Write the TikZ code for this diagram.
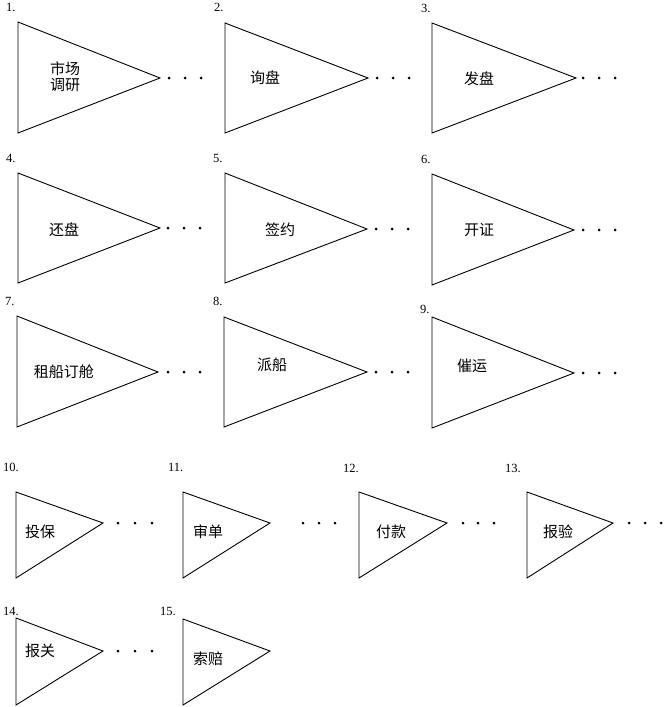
\documentclass[tikz,border=0pt]{standalone}
\usepackage{fontspec}
\setmainfont{Liberation Serif}
\newfontfamily\cjk{Noto Sans CJK SC}
\begin{document}
\begin{tikzpicture}[x=1pt,y=-1pt,
  tri/.style={draw, line width=0.9pt, line join=miter},
  lbl/.style={font=\cjk\fontsize{15}{15.5}\selectfont, inner sep=0pt, align=center},
  num/.style={font=\fontsize{12.5}{13}\selectfont, inner sep=0pt, anchor=base west},
  dotfill/.style={fill=black}]
\useasboundingbox[fill=white] (0,0) rectangle (671,707);
\newcommand\tridots[4]{\foreach \xx in {#1,#2,#3} \fill[dotfill] (\xx,#4) circle (1.5);}
% row 1
\draw[tri] (18,22) -- (160,78) -- (18,133) -- cycle;
\node[lbl] (t1) at (65,77) {市场\\调研};
\node[num] (n1) at (6,11) {1.};
\tridots{169}{185}{201}{78}
\draw[tri] (225,23) -- (368,78) -- (225,133) -- cycle;
\node[lbl] (t2) at (265,78) {询盘};
\node[num] (n2) at (214,11) {2.};
\tridots{377}{393}{409}{78}
\draw[tri] (432,23) -- (576,78) -- (432,133) -- cycle;
\node[lbl] (t3) at (479,79) {发盘};
\node[num] (n3) at (421,12) {3.};
\tridots{583}{599}{615}{78}
% row 2
\draw[tri] (18,173) -- (160,228) -- (18,283) -- cycle;
\node[lbl] (t4) at (64,230) {还盘};
\node[num] (n4) at (6,162) {4.};
\tridots{168}{184}{200}{228}
\draw[tri] (225,173) -- (367,229) -- (225,283) -- cycle;
\node[lbl] (t5) at (280,230) {签约};
\node[num] (n5) at (213,162) {5.};
\tridots{376}{392}{408}{229}
\draw[tri] (432,174) -- (574,230) -- (432,285) -- cycle;
\node[lbl] (t6) at (479,230) {开证};
\node[num] (n6) at (421,163) {6.};
\tridots{583}{599}{615}{230}
% row 3
\draw[tri] (17,316) -- (158,372) -- (17,427) -- cycle;
\node[lbl] (t7) at (64,372) {租船订舱};
\node[num] (n7) at (5,305) {7.};
\tridots{168}{184}{200}{372}
\draw[tri] (224,317) -- (367,372) -- (224,427) -- cycle;
\node[lbl] (t8) at (272,365) {派船};
\node[num] (n8) at (213,305) {8.};
\tridots{376}{392}{408}{372}
\draw[tri] (432,317) -- (574,373) -- (432,428) -- cycle;
\node[lbl] (t9) at (472,366) {催运};
\node[num] (n9) at (420,313) {9.};
\tridots{583}{599}{615}{373}
% row 4
\draw[tri] (16,492) -- (103,523) -- (16,578) -- cycle;
\node[lbl] (t10) at (40,532) {投保};
\node[num] (n10) at (3,471) {10.};
\tridots{118}{135}{152}{523}
\draw[tri] (183,492) -- (270,523) -- (183,578) -- cycle;
\node[lbl] (t11) at (208,532) {审单};
\node[num] (n11) at (168,471) {11.};
\tridots{303}{319}{335}{523}
\draw[tri] (359,492) -- (447,523) -- (359,578) -- cycle;
\node[lbl] (t12) at (391,532) {付款};
\node[num] (n12) at (343,472) {12.};
\tridots{463}{478}{494}{523}
\draw[tri] (527,492) -- (613,523) -- (527,578) -- cycle;
\node[lbl] (t13) at (558,532) {报验};
\node[num] (n13) at (505,472) {13.};
\tridots{629}{645}{661}{523}
% row 5
\draw[tri] (16,618) -- (103,651) -- (16,705) -- cycle;
\node[lbl] (t14) at (40,651) {报关};
\node[num] (n14) at (3,615) {14.};
\tridots{118}{135}{152}{651}
\draw[tri] (183,619) -- (270,651) -- (183,705) -- cycle;
\node[lbl] (t15) at (208,659) {索赔};
\node[num] (n15) at (160,615) {15.};
\end{tikzpicture}
\end{document}
